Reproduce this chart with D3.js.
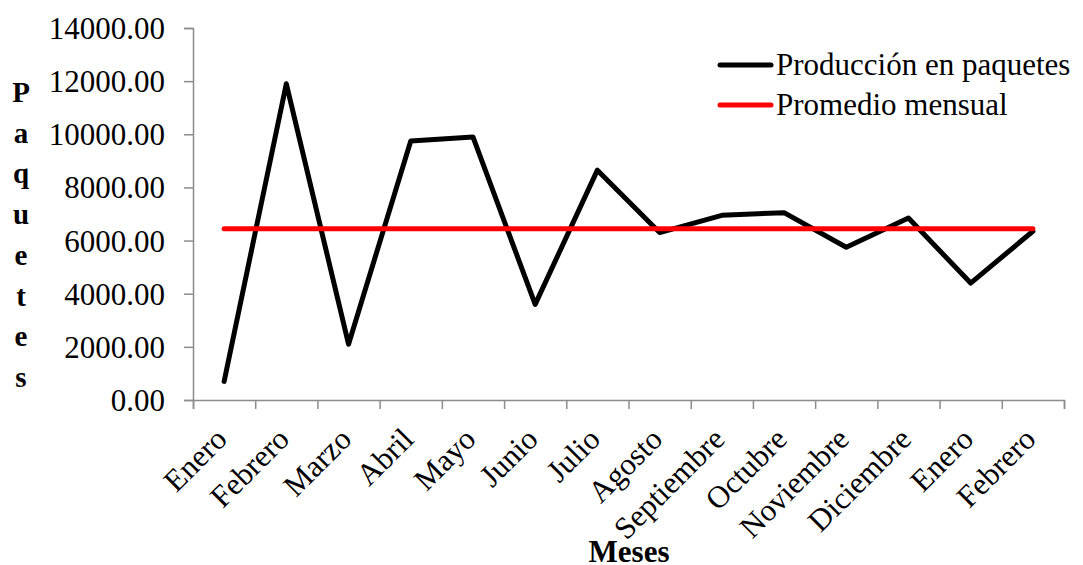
<html>
<head>
<meta charset="utf-8">
<script src="https://cdn.jsdelivr.net/npm/d3@7"></script>
<style>
  body { margin: 0; background: #fff; }
  text { font-family: "Liberation Serif", "Times New Roman", serif; fill: #000; }
</style>
</head>
<body>
<script>
// datos
var meses = ["Enero", "Febrero", "Marzo", "Abril", "Mayo", "Junio", "Julio", "Agosto",
             "Septiembre", "Octubre", "Noviembre", "Diciembre", "Enero", "Febrero"];
var produccion = [700, 11900, 2100, 9750, 9900, 3600, 8650, 6300, 6950, 7050, 5750, 6850, 4400, 6350];
var promedio = [6446, 6446, 6446, 6446, 6446, 6446, 6446, 6446, 6446, 6446, 6446, 6446, 6446, 6446];
var yTicks = [0, 2000, 4000, 6000, 8000, 10000, 12000, 14000];
var series = ["Producción en paquetes", "Promedio mensual"];
var colores = ["#000000", "#ff0000"];

var W = 1083, H = 565;
var mLeft = 193, mRight = 1064, mTop = 28, mBottom = 400;

var svg = d3.select("body").append("svg").attr("width", W).attr("height", H);

var x = d3.scaleLinear().domain([0, meses.length]).range([mLeft, mRight]);
var y = d3.scaleLinear().domain([0, 14000]).range([mBottom, mTop]);

// eje y
var gy = svg.append("g").attr("transform", "translate(" + mLeft + ",0)")
  .call(d3.axisLeft(y).tickValues(yTicks).tickSizeOuter(0).tickSize(9).tickPadding(19)
        .tickFormat(function(d){ return d.toFixed(2); }));
gy.selectAll("path, line").attr("stroke", "#8c8c8c").attr("stroke-width", 1.5);
gy.selectAll("text").style("font-size", "31px").attr("dy", "0.34em");

// eje x (marcas entre categorias)
var gx = svg.append("g").attr("transform", "translate(0," + mBottom + ")")
  .call(d3.axisBottom(x).tickValues(d3.range(meses.length + 1)).tickSizeOuter(0).tickSize(9).tickFormat(""));
gx.selectAll("path, line").attr("stroke", "#8c8c8c").attr("stroke-width", 1.5);

// etiquetas de meses giradas
svg.append("g").selectAll("text").data(meses).enter().append("text")
  .attr("transform", function(d, i){ return "translate(" + (x(i + 0.5) - 2) + "," + (mBottom + 34.5) + ") rotate(-45)"; })
  .attr("text-anchor", "end")
  .attr("dy", "0.3em")
  .style("font-size", "31px")
  .text(function(d){ return d; });

// lineas
var linea = d3.line()
  .x(function(d, i){ return x(i + 0.5); })
  .y(function(d){ return y(d); });

svg.append("path").datum(produccion)
  .attr("d", linea).attr("fill", "none")
  .attr("stroke", colores[0]).attr("stroke-width", 5)
  .attr("stroke-linejoin", "round").attr("stroke-linecap", "round");

svg.append("path").datum(promedio)
  .attr("d", linea).attr("fill", "none")
  .attr("stroke", colores[1]).attr("stroke-width", 5)
  .attr("stroke-linecap", "round");

// leyenda
var leg = svg.append("g");
series.forEach(function(s, i){
  var yy = 65 + i * 40;
  leg.append("line").attr("x1", 720).attr("x2", 771).attr("y1", yy).attr("y2", yy)
    .attr("stroke", colores[i]).attr("stroke-width", 5).attr("stroke-linecap", "round");
  leg.append("text").attr("x", 776).attr("y", yy + 10).style("font-size", "31px").text(s);
});

// titulos de ejes
svg.append("text").attr("x", 629).attr("y", 562).attr("text-anchor", "middle")
  .style("font-size", "31px").style("font-weight", "bold").text("Meses");

var letras = "Paquetes".split("");
svg.append("g").selectAll("text").data(letras).enter().append("text")
  .attr("x", 21).attr("y", function(d, i){ return 102 + i * 40.7; })
  .attr("text-anchor", "middle")
  .style("font-size", "29px").style("font-weight", "bold")
  .text(function(d){ return d; });
</script>
</body>
</html>
